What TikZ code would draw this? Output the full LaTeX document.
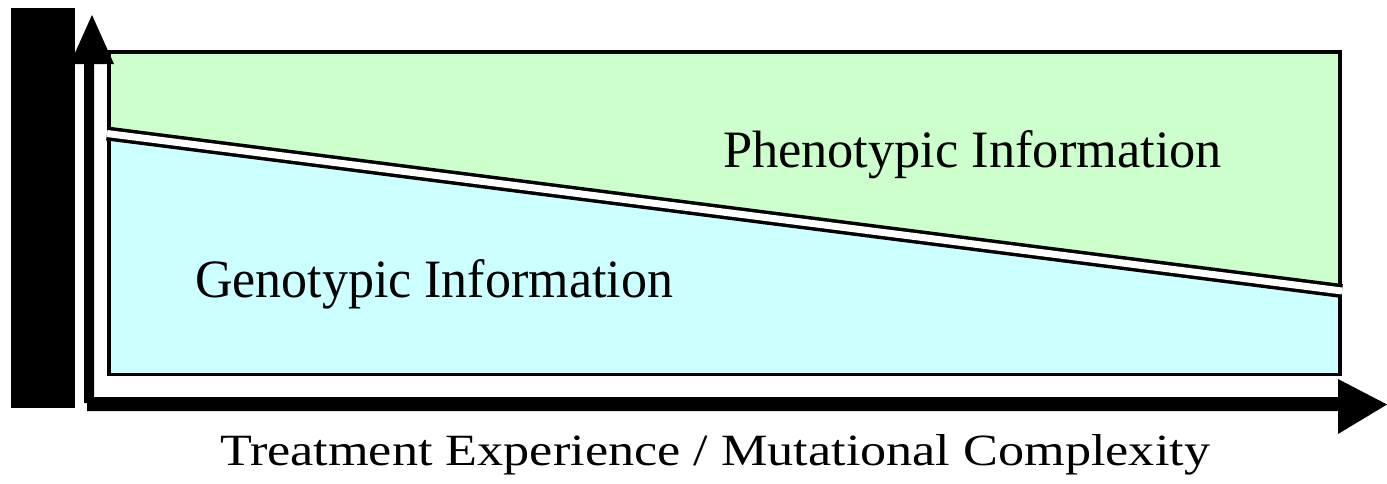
\documentclass[tikz,border=0pt]{standalone}
\usepackage{fontspec}
\setmainfont{Liberation Serif}
\usepackage{graphicx}
\definecolor{pheno}{HTML}{CCFFCC}
\definecolor{geno}{HTML}{CCFFFF}
\tikzset{
  lbl/.style={anchor=base west, inner sep=0pt, outer sep=0pt},
  axisfill/.style={fill=black, draw=none},
}
\begin{document}
\begin{tikzpicture}[x=1pt,y=-1pt]
\useasboundingbox (0,0) rectangle (1387,483);
% left black bar
\fill[black] (11,8) rectangle (75,408);
% box fills
\fill[pheno] (107,50) rectangle (1342,376);
\fill[geno] (107,133.5) -- (1342,291) -- (1342,376) -- (107,376) -- cycle;
% box border
\draw[line width=3.5pt] (108.75,51.75) rectangle (1340,374.25);
% separating double line
\draw[line width=3.5pt, double=white, double distance=7pt, line cap=butt] (107,133.5) -- (1342,291);
% axes
\path[axisfill] (84,403) -- (84,64) -- (70,64) -- (92,15) -- (114,64) -- (94,64) -- (94,397) -- (1338,397) -- (1338,379) -- (1387,404.5) -- (1338,434) -- (1338,411) -- (87,411) -- (87,403) -- cycle;
% labels
\node[lbl] (pheno) at (723,167) {\resizebox{499pt}{37pt}{\fontsize{54}{60}\selectfont Phenotypic Information}};
\node[lbl] (geno) at (195,297) {\resizebox{478pt}{38pt}{\fontsize{54}{60}\selectfont Genotypic Information}};
\node[lbl] (xlabel) at (220,465) {\resizebox{990pt}{31pt}{\fontsize{45}{50}\selectfont Treatment Experience / Mutational Complexity}};
\end{tikzpicture}
\end{document}
